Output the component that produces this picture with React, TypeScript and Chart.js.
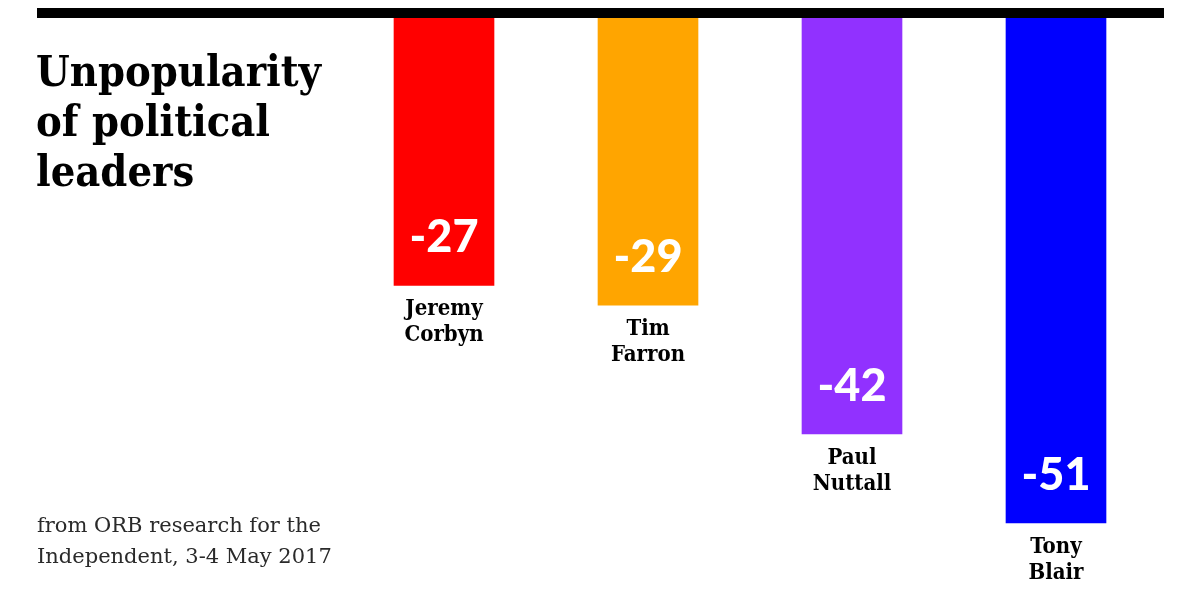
import React, { useEffect, useRef } from "react";
import { Chart, registerables } from "chart.js";

Chart.register(...registerables);

const leaders: string[][] = [["Jeremy", "Corbyn"], ["Tim", "Farron"], ["Paul", "Nuttall"], ["Tony", "Blair"]];
const netRatings: number[] = [-27, -29, -42, -51];
const barColors: string[] = ["#ff0000", "#ffa500", "#9131ff", "#0000ff"];
const titleLines: string[] = ["Unpopularity", "of political", "leaders"];
const sourceLines: string[] = ["from ORB research for the", "Independent, 3-4 May 2017"];

const SLAB = '"DejaVu Serif Condensed", "DejaVu Serif", serif';

const decorPlugin = {
  id: "decor",
  beforeDraw(chart: any) {
    const ctx = chart.ctx;
    ctx.save();
    ctx.fillStyle = "#ffffff";
    ctx.fillRect(0, 0, chart.width, chart.height);
    ctx.restore();
  },
  afterDatasetsDraw(chart: any) {
    const ctx = chart.ctx;
    ctx.save();
    // top rule
    ctx.fillStyle = "#000000";
    ctx.fillRect(37, 8, 1127, 10);
    // title
    ctx.fillStyle = "#000000";
    ctx.textAlign = "left";
    ctx.textBaseline = "alphabetic";
    ctx.font = `bold 43px ${SLAB}`;
    titleLines.forEach((t, i) => ctx.fillText(t, 36, 86 + i * 50));
    // source
    ctx.fillStyle = "#2a2a2a";
    ctx.font = `21px "DejaVu Serif", serif`;
    sourceLines.forEach((t, i) => ctx.fillText(t, 37, 532 + i * 31));
    // bar labels
    const meta = chart.getDatasetMeta(0);
    meta.data.forEach((bar: any, i: number) => {
      const x = bar.x;
      const bottom = bar.y;
      ctx.textAlign = "center";
      ctx.fillStyle = "#ffffff";
      ctx.font = '900 45px Lato, sans-serif';
      ctx.fillText(String(netRatings[i]), x, bottom - 33);
      ctx.fillStyle = "#000000";
      ctx.font = `bold 22px ${SLAB}`;
      leaders[i].forEach((line, j) => ctx.fillText(line, x, bottom + 30 + j * 26));
    });
    ctx.restore();
  },
};

export default function App() {
  const ref = useRef<HTMLCanvasElement>(null);
  useEffect(() => {
    document.body.style.margin = "0";
    const chart = new Chart(ref.current!, {
      type: "bar",
      data: {
        labels: leaders.map((l) => l.join(" ")),
        datasets: [
          {
            data: netRatings,
            backgroundColor: barColors,
            borderWidth: 0,
            barThickness: 100,
          },
        ],
      },
      options: {
        animation: false,
        responsive: false,
        maintainAspectRatio: false,
        layout: { padding: { top: 18, bottom: 37.5, left: 342, right: 42 } },
        plugins: { legend: { display: false }, tooltip: { enabled: false } },
        scales: {
          x: { display: false, offset: true },
          y: { display: false, min: -55, max: 0 },
        },
      },
      plugins: [decorPlugin],
    });
    return () => chart.destroy();
  }, []);
  return (
    <div style={{ width: 1200, height: 600 }}>
      <canvas ref={ref} width={1200} height={600} style={{ display: "block" }} />
    </div>
  );
}
